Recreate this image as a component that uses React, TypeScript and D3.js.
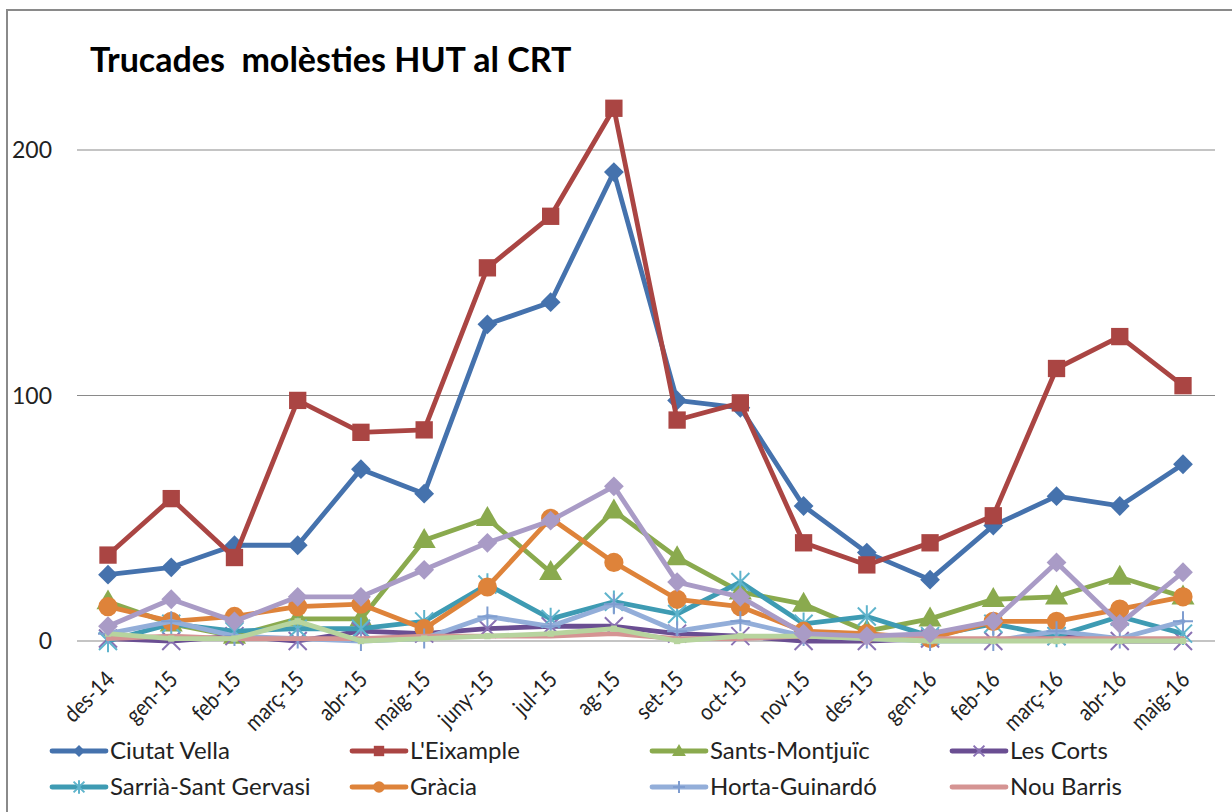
import React from "react";
import * as d3 from "d3";

const months = ["des-14","gen-15","feb-15","març-15","abr-15","maig-15","juny-15","jul-15","ag-15","set-15","oct-15","nov-15","des-15","gen-16","feb-16","març-16","abr-16","maig-16"];

const ciutatVella = [27,30,39,39,70,60,129,138,191,98,95,55,36,25,47,59,55,72];
const eixample = [35,58,34,98,85,86,152,173,217,90,97,40,31,40,51,111,124,104];
const santsMontjuic = [16,7,2,9,9,41,50,28,53,34,20,15,4,9,17,18,26,18];
const lesCorts = [1,0,2,0,4,3,5,6,6,3,2,0,0,1,0,2,0,0];
const sarria = [0,7,4,5,5,8,23,9,16,11,24,7,10,2,7,2,10,3];
const gracia = [14,8,10,14,15,5,22,50,32,17,14,4,3,1,8,8,13,18];
const horta = [3,8,2,1,0,1,10,6,15,4,8,2,1,0,0,4,1,8];
const nouBarris = [1,2,1,1,1,2,2,2,3,1,1,2,2,1,1,1,1,1];
const santAndreu = [3,1,1,8,0,1,2,3,5,0,2,2,1,0,0,0,0,0];
const santMarti = [6,17,8,18,18,29,40,49,63,24,18,3,2,3,8,32,7,28];

const yTicks = [0, 100, 200];
const title = "Trucades  molèsties HUT al CRT";

type Marker = "diamond" | "square" | "triangle" | "x" | "star" | "circle" | "plus" | "none" | "smallsquare";
interface S { name: string; values: number[]; color: string; mcolor: string; marker: Marker; legend: boolean; }

const series: S[] = [
  { name: "Ciutat Vella", values: ciutatVella, color: "#4572AD", mcolor: "#4572AD", marker: "diamond", legend: true },
  { name: "L'Eixample", values: eixample, color: "#AA4543", mcolor: "#AA4543", marker: "square", legend: true },
  { name: "Sants-Montjuïc", values: santsMontjuic, color: "#8AAA4E", mcolor: "#8AAA4E", marker: "triangle", legend: true },
  { name: "Les Corts", values: lesCorts, color: "#6A4E92", mcolor: "#8A72B4", marker: "x", legend: true },
  { name: "Sarrià-Sant Gervasi", values: sarria, color: "#3E9BB3", mcolor: "#5FB4CC", marker: "star", legend: true },
  { name: "Gràcia", values: gracia, color: "#DE833A", mcolor: "#DE833A", marker: "circle", legend: true },
  { name: "Horta-Guinardó", values: horta, color: "#93AED9", mcolor: "#7F9DD0", marker: "plus", legend: true },
  { name: "Nou Barris", values: nouBarris, color: "#D59493", mcolor: "#D59493", marker: "none", legend: true },
  { name: "Sant Andreu", values: santAndreu, color: "#B7D49E", mcolor: "#B7D49E", marker: "smallsquare", legend: false },
  { name: "Sant Martí", values: santMarti, color: "#A99BC6", mcolor: "#A99BC6", marker: "diamond", legend: false },
];

const FONT = "Lato, 'Open Sans', sans-serif";

function MarkerShape({ m, x, y, c, legend }: { m: Marker; x: number; y: number; c: string; legend?: boolean }) {
  const k = legend ? 0.6 : 1;
  switch (m) {
    case "diamond": {
      const p = d3.symbol(d3.symbolDiamond2, 250 * k * k)()!;
      return <path d={p} transform={`translate(${x},${y})`} fill={c} />;
    }
    case "square": {
      const p = d3.symbol(d3.symbolSquare, 300 * k * k)()!;
      return <path d={p} transform={`translate(${x},${y})`} fill={c} />;
    }
    case "smallsquare": {
      const p = d3.symbol(d3.symbolSquare, 40)()!;
      return <path d={p} transform={`translate(${x},${y})`} fill={c} />;
    }
    case "triangle": {
      const p = d3.symbol(d3.symbolTriangle, 230 * k * k)()!;
      return <path d={p} transform={`translate(${x},${y + 1})`} fill={c} />;
    }
    case "circle": {
      const p = d3.symbol(d3.symbolCircle, 290 * k * k)()!;
      return <path d={p} transform={`translate(${x},${y})`} fill={c} />;
    }
    case "x": {
      const r = 9 * k;
      return <path d={`M${-r},${-r}L${r},${r}M${-r},${r}L${r},${-r}`} transform={`translate(${x},${y})`} stroke={c} strokeWidth={2} fill="none" />;
    }
    case "star": {
      const r = 9 * k;
      return <path d={`M${-r},${-r}L${r},${r}M${-r},${r}L${r},${-r}M0,${-r * 1.25}L0,${r * 1.25}`} transform={`translate(${x},${y})`} stroke={c} strokeWidth={2} fill="none" />;
    }
    case "plus": {
      const r = 10 * k;
      return <path d={`M0,${-r}L0,${r}M${-r},0L${r},0`} transform={`translate(${x},${y})`} stroke={c} strokeWidth={2} fill="none" />;
    }
    default:
      return null;
  }
}

export default function App() {
  const W = 1232, H = 812;
  const plotL = 77, plotR = 1215;
  const x = d3.scalePoint<string>().domain(months).range([108, 1183]);
  const y = d3.scaleLinear().domain([0, 200]).range([641, 150]);
  const line = d3.line<number>().x((_, i) => x(months[i])!).y((v) => y(v));

  const legendItems = series.filter((s) => s.legend);
  const cols = [52, 352, 652, 952];
  const rows = [751, 787];

  return (
    <svg width={W} height={H} style={{ position: "absolute", left: 0, top: 0, background: "#fff" }}>
      <rect x={7} y={10} width={W + 20} height={H + 20} fill="#fff" stroke="#8a8a8a" strokeWidth={2} />
      <text x={90} y={72} fontFamily={FONT} fontWeight={700} fontSize={34} fill="#000" style={{ whiteSpace: "pre" }}>{title}</text>

      {yTicks.map((t) => (
        <g key={t}>
          <line x1={plotL} x2={plotR} y1={y(t)} y2={y(t)} stroke="#8a8a8a" strokeWidth={1.2} />
          <text x={52} y={y(t)} dy="0.35em" textAnchor="end" fontFamily={FONT} fontSize={23} fill="#222">{t}</text>
        </g>
      ))}

      {months.map((m) => (
        <text key={m} transform={`translate(${x(m)! + 8},${681}) rotate(-45) scale(0.86,1)`} textAnchor="end" fontFamily={FONT} fontSize={23} fill="#222">{m}</text>
      ))}

      {series.map((s) => (
        <g key={s.name}>
          <path d={line(s.values)!} fill="none" stroke={s.color} strokeWidth={4.8} strokeLinejoin="round" strokeLinecap="round" />
          {s.values.map((v, i) => (
            <MarkerShape key={i} m={s.marker} x={x(months[i])!} y={y(v)} c={s.mcolor} />
          ))}
        </g>
      ))}

      {legendItems.map((s, i) => {
        const cx = cols[i % 4];
        const cy = rows[Math.floor(i / 4)];
        return (
          <g key={s.name}>
            <line x1={cx} x2={cx + 54} y1={cy} y2={cy} stroke={s.color} strokeWidth={4.8} strokeLinecap="round" />
            <MarkerShape m={s.marker} x={cx + 27} y={cy} c={s.mcolor} legend />
            <text x={cx + 58} y={cy} dy="0.35em" fontFamily={FONT} fontSize={24} fill="#222">{s.name}</text>
          </g>
        );
      })}
    </svg>
  );
}
